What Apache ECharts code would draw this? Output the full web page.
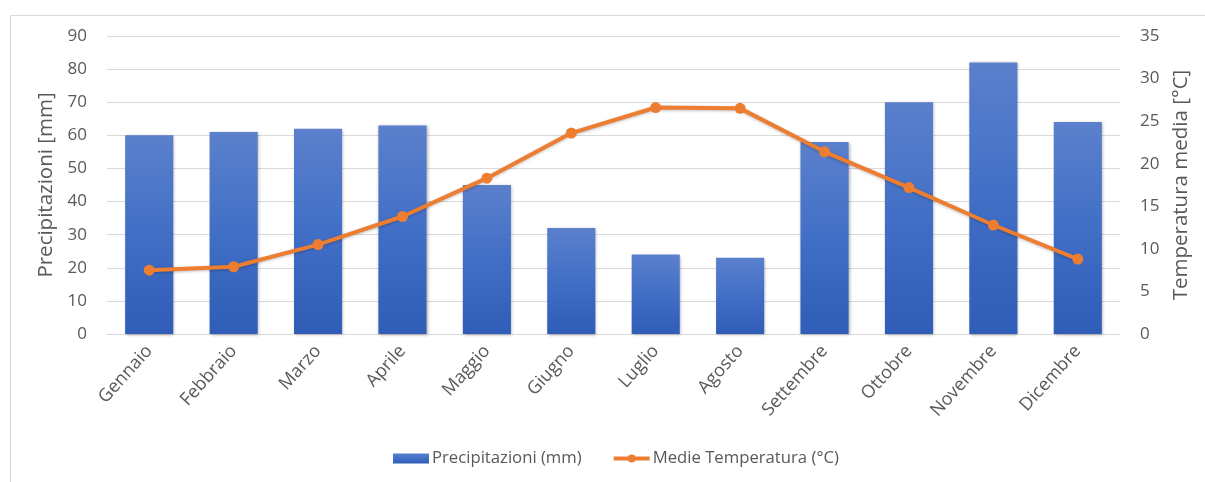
<!DOCTYPE html>
<html>
<head>
<meta charset="utf-8">
<script src="https://cdn.jsdelivr.net/npm/echarts@6/dist/echarts.min.js"></script>
<style>
  html, body { margin: 0; padding: 0; background: #fff; }
  #chart { width: 1205px; height: 482px; }
</style>
</head>
<body>
<div id="chart"></div>
<script>
// Monthly climate data
const months = ['Gennaio', 'Febbraio', 'Marzo', 'Aprile', 'Maggio', 'Giugno',
                'Luglio', 'Agosto', 'Settembre', 'Ottobre', 'Novembre', 'Dicembre'];
const precipitazioni = [60, 61, 62, 63, 45, 32, 24, 23, 58, 70, 82, 64];
const temperatura = [7.5, 7.9, 10.5, 13.8, 18.3, 23.6, 26.6, 26.5, 21.4, 17.2, 12.8, 8.8];

const FONT = '"Open Sans", Lato, sans-serif';
const TEXT = '#595959';
const GRID_LINE = '#d9d9d9';
const ORANGE = '#ed7d31';

const chart = echarts.init(document.getElementById('chart'), null, { renderer: 'canvas' });

chart.setOption({
  backgroundColor: '#fff',
  animation: false,
  textStyle: { fontFamily: FONT, color: TEXT },
  graphic: [{
    type: 'rect',
    shape: { x: 10.5, y: 15.5, width: 1210, height: 480 },
    style: { fill: 'none', stroke: GRID_LINE, lineWidth: 1 },
    silent: true
  }],
  grid: { left: 107, right: 85, top: 36, bottom: 148 },
  legend: {
    bottom: 10,
    left: 388,
    itemGap: 30,
    itemWidth: 36,
    itemHeight: 10,
    textStyle: { fontFamily: FONT, fontSize: 16.7, color: TEXT, padding: [0, 0, 0, -2] },
    data: [
      { name: 'Precipitazioni (mm)', icon: 'rect' },
      { name: 'Medie Temperatura (°C)', lineStyle: { width: 4, color: ORANGE } }
    ]
  },
  xAxis: {
    type: 'category',
    data: months,
    axisTick: { show: false },
    axisLine: { lineStyle: { color: GRID_LINE, width: 1 } },
    axisLabel: {
      rotate: 48,
      interval: 0,
      margin: 14,
      fontFamily: FONT,
      fontSize: 18,
      color: TEXT
    }
  },
  yAxis: [{
    type: 'value',
    min: 0,
    max: 90,
    interval: 10,
    name: 'Precipitazioni [mm]',
    nameLocation: 'middle',
    nameGap: 45,
    nameTextStyle: { fontFamily: FONT, fontSize: 20.5, color: TEXT },
    axisLine: { show: false },
    axisTick: { show: false },
    axisLabel: { margin: 20, fontFamily: FONT, fontSize: 17, color: TEXT },
    splitLine: { lineStyle: { color: GRID_LINE, width: 1 } }
  }, {
    type: 'value',
    min: 0,
    max: 35,
    interval: 5,
    name: 'Temperatura media [°C]',
    nameLocation: 'middle',
    nameGap: 51,
    nameTextStyle: { fontFamily: FONT, fontSize: 20.5, color: TEXT },
    axisLine: { show: false },
    axisTick: { show: false },
    axisLabel: { margin: 20, fontFamily: FONT, fontSize: 17, color: TEXT },
    splitLine: { show: false }
  }],
  series: [{
    name: 'Precipitazioni (mm)',
    type: 'bar',
    yAxisIndex: 0,
    data: precipitazioni,
    barWidth: '57%',
    itemStyle: {
      color: new echarts.graphic.LinearGradient(0, 0, 0, 1, [
        { offset: 0, color: '#5b80cc' },
        { offset: 0.5, color: '#416fc6' },
        { offset: 1, color: '#2f5db7' }
      ]),
      shadowColor: 'rgba(0,0,0,0.3)',
      shadowBlur: 3,
      shadowOffsetX: 1,
      shadowOffsetY: 1
    }
  }, {
    name: 'Medie Temperatura (°C)',
    type: 'line',
    yAxisIndex: 1,
    data: temperatura,
    symbol: 'circle',
    symbolSize: 11,
    showAllSymbol: true,
    lineStyle: {
      color: ORANGE,
      width: 4,
      shadowColor: 'rgba(0,0,0,0.25)',
      shadowBlur: 3,
      shadowOffsetY: 1
    },
    itemStyle: { color: ORANGE }
  }]
});
</script>
</body>
</html>
